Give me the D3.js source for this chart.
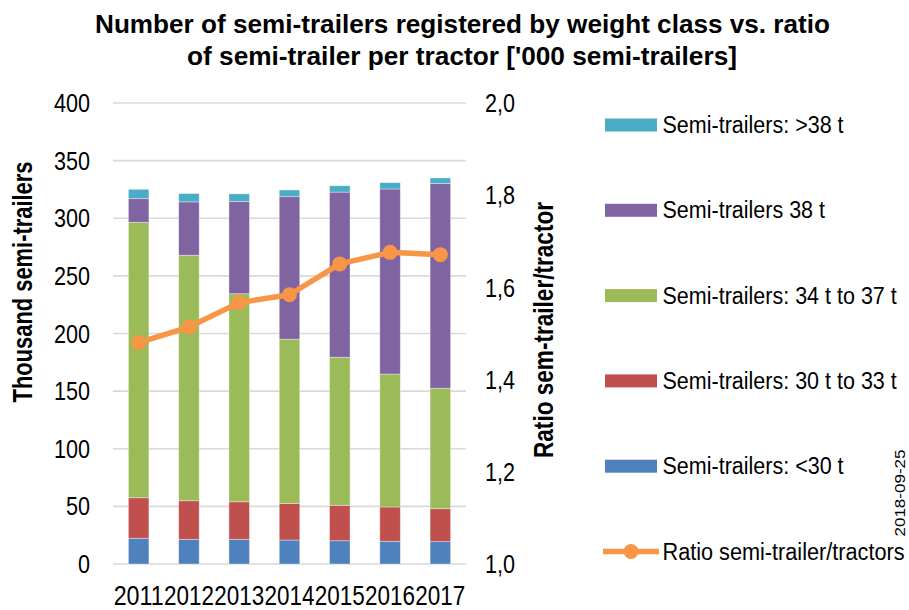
<!DOCTYPE html>
<html><head><meta charset="utf-8">
<script src="https://cdn.jsdelivr.net/npm/d3@7"></script>
<style>
body{margin:0;background:#fff;}
svg text{font-family:"Liberation Sans",Arial,sans-serif;fill:#000;}
</style></head>
<body><svg id="c" width="909" height="610"></svg>
<script>
const years = ["2011","2012","2013","2014","2015","2016","2017"];
const below30 = [22.3, 21.4, 21.4, 20.8, 20.2, 19.7, 19.4];
const t30to33 = [35.2, 33.5, 32.6, 31.8, 30.7, 29.8, 28.6];
const t34to37 = [239.0, 213.0, 180.5, 142.5, 128.5, 115.3, 104.5];
const t38 = [20.5, 46.3, 80.1, 123.6, 143.3, 160.6, 177.6];
const above38 = [8.1, 7.2, 6.6, 5.8, 5.5, 5.5, 4.9];
const ratio = [1.480, 1.514, 1.567, 1.584, 1.651, 1.676, 1.671];
const leftTicks = [0,50,100,150,200,250,300,350,400];
const rightTicks = [1.0,1.2,1.4,1.6,1.8,2.0];
const seriesNames = ["Semi-trailers: <30 t","Semi-trailers: 30 t to 33 t","Semi-trailers: 34 t to 37 t","Semi-trailers 38 t","Semi-trailers: >38 t"];
const seriesColors = ["#4F81BD","#C0504D","#9BBB59","#8064A2","#4BACC6"];
const lineName = "Ratio semi-trailer/tractors";
const lineColor = "#F79646";

const svg = d3.select("#c");
const x = d3.scaleBand().domain(years).range([113.5,465.5]).paddingInner(0.592).paddingOuter(0.296);
const y = d3.scaleLinear().domain([0,400]).range([564,103]);
const y2 = d3.scaleLinear().domain([1,2]).range([564,103]);

function squeeze(sel, f){
  sel.each(function(){
    const w = this.getComputedTextLength();
    d3.select(this).attr("textLength", w*f).attr("lengthAdjust","spacingAndGlyphs");
  });
}
function fitTo(sel, len){
  sel.attr("textLength", len).attr("lengthAdjust","spacingAndGlyphs");
}

// gridlines
svg.append("g").selectAll("line").data(leftTicks).join("line")
  .attr("x1",113).attr("x2",466).attr("y1",d=>y(d)).attr("y2",d=>y(d))
  .attr("stroke","#D9D9D9").attr("stroke-width",1.6);

// stacked bars
const rows = years.map((yr,i)=>({year:yr, s0:below30[i], s1:t30to33[i], s2:t34to37[i], s3:t38[i], s4:above38[i]}));
const stack = d3.stack().keys(["s0","s1","s2","s3","s4"])(rows);
svg.append("g").selectAll("g").data(stack).join("g")
  .attr("fill",(d,i)=>seriesColors[i])
  .selectAll("rect").data(d=>d).join("rect")
  .attr("x",d=>x(d.data.year)).attr("width",x.bandwidth())
  .attr("y",d=>y(d[1])).attr("height",d=>y(d[0])-y(d[1]))
  .attr("stroke","#ffffff").attr("stroke-opacity",0.45).attr("stroke-width",0.8);

// ratio line
const line = d3.line().x((d,i)=>x(years[i])+x.bandwidth()/2).y(d=>y2(d));
svg.append("path").datum(ratio).attr("d",line).attr("fill","none")
  .attr("stroke",lineColor).attr("stroke-width",5.5).attr("stroke-linejoin","round");
svg.append("g").selectAll("circle").data(ratio).join("circle")
  .attr("cx",(d,i)=>x(years[i])+x.bandwidth()/2).attr("cy",d=>y2(d)).attr("r",7.5)
  .attr("fill",lineColor);

// left axis labels
const fmtR = d=>d.toFixed(1).replace(".",",");
svg.append("g").selectAll("text").data(leftTicks).join("text")
  .attr("x",90).attr("y",d=>y(d)).attr("dy","0.35em").attr("text-anchor","end")
  .attr("font-size",26).text(d=>d).call(squeeze,0.83);
// right axis labels
svg.append("g").selectAll("text").data(rightTicks).join("text")
  .attr("x",485).attr("y",d=>y2(d)).attr("dy","0.35em").attr("text-anchor","start")
  .attr("font-size",26).text(fmtR).call(squeeze,0.83);
// year labels
svg.append("g").selectAll("text").data(years).join("text")
  .attr("x",d=>x(d)+x.bandwidth()/2).attr("y",605).attr("text-anchor","middle")
  .attr("font-size",27).text(d=>d).call(fitTo,50);

// axis titles
svg.append("text").attr("transform","translate(32,282) rotate(-90)").attr("text-anchor","middle")
  .attr("font-size",27).attr("font-weight","bold").text("Thousand semi-trailers").call(fitTo,241);
svg.append("text").attr("transform","translate(553,330) rotate(-90)").attr("text-anchor","middle")
  .attr("font-size",27).attr("font-weight","bold").text("Ratio sem-trailer/tractor").call(fitTo,256);

// chart title
svg.append("text").attr("x",462.5).attr("y",33).attr("text-anchor","middle").attr("font-size",26).attr("font-weight","bold")
  .text("Number of semi-trailers registered by weight class vs. ratio").call(fitTo,735);
svg.append("text").attr("x",462).attr("y",65).attr("text-anchor","middle").attr("font-size",26).attr("font-weight","bold")
  .text("of semi-trailer per tractor ['000 semi-trailers]").call(fitTo,550);

// legend
const legendItems = [4,3,2,1,0];
const lg = svg.append("g");
legendItems.forEach((si,k)=>{
  const cy = 125 + k*85.3;
  lg.append("rect").attr("x",605).attr("y",cy-6.5).attr("width",52).attr("height",13).attr("fill",seriesColors[si]);
  lg.append("text").attr("x",662.5).attr("y",cy).attr("dy","0.35em").attr("font-size",23).text(seriesNames[si]).call(squeeze,0.935);
});
{
  const cy = 125 + 5*85.3;
  lg.append("line").attr("x1",603).attr("x2",659).attr("y1",cy).attr("y2",cy).attr("stroke",lineColor).attr("stroke-width",5.5);
  lg.append("circle").attr("cx",631).attr("cy",cy).attr("r",7.5).attr("fill",lineColor);
  lg.append("text").attr("x",662.5).attr("y",cy).attr("dy","0.35em").attr("font-size",23).text(lineName).call(fitTo,242);
}
// date stamp
svg.append("text").attr("transform","translate(905,493) rotate(-90)").attr("text-anchor","middle")
  .attr("font-size",14).text("2018-09-25").call(fitTo,87);
</script></body></html>
